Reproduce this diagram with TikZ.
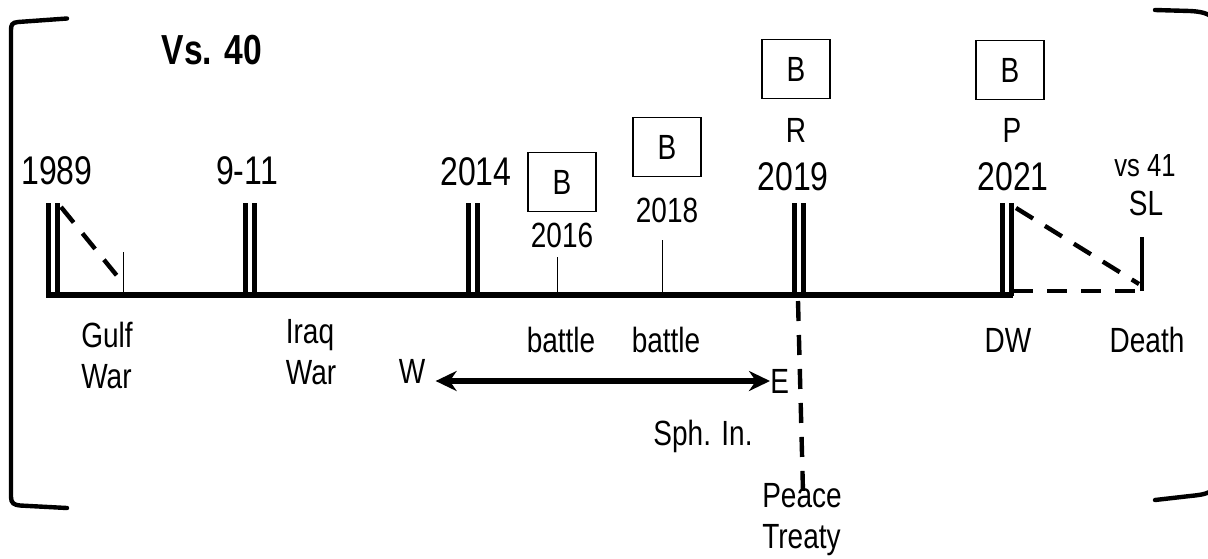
\documentclass[tikz,border=0pt]{standalone}
\usepackage{fontspec}
\setmainfont[FakeStretch=0.8]{Liberation Sans}
\usetikzlibrary{arrows.meta,positioning}
\tikzset{
big/.style={inner sep=0pt,font=\fontsize{20}{24}\selectfont},
mid/.style={inner sep=0pt,font=\fontsize{17.5}{20.5}\selectfont,align=left},
small/.style={inner sep=0pt,font=\fontsize{16}{18}\selectfont},
bx/.style={draw,line width=0.7pt,minimum width=34pt,minimum height=29.5pt,inner sep=0pt,font=\fontsize{17.5}{20}\selectfont},
dbl/.style={line width=2.5pt},
hair/.style={line width=0.5pt},
brk/.style={line width=2.2pt,dash pattern=on 10pt off 7pt},
bracket/.style={line width=2.2pt,line cap=round},
arr/.style={line width=3.2pt,{Stealth[length=10.5pt,width=10pt]}-{Stealth[length=10.5pt,width=10pt]}}
}
\begin{document}
\begin{tikzpicture}[x=0.5pt,y=-0.5pt]
\useasboundingbox(0,0)rectangle(1208,558);
\clip(0,0)rectangle(1208,558);
\draw[bracket](67,18.5)--(18,22)..controls(12,22.5)and(11,25)..(11,30)--(11,497)..controls(11,503)and(14,505)..(20,505.5)--(67,508);
\draw[bracket](1155,10)--(1190,11)..controls(1200,11.5)and(1210,13)..(1214,20)--(1214,488)..controls(1210,494)and(1200,495)..(1190,496)--(1155,500);
\coordinate(L)at(46,295);
\coordinate(D)at(1013,295);
\draw[line width=3.2pt](L)--(D);
\foreach \x in{53,249.5,473,799,1006.5}
{\draw[dbl](\x-4.5,296)--(\x-4.5,203);\draw[dbl](\x+4.5,296)--(\x+4.5,203);}
\foreach \x/\y in{123/252,557/257,662/240}
{\draw[hair](\x,294)--(\x,\y);}
\coordinate(g1)at(61,207);
\coordinate(g2)at(118,277);
\draw[brk](g1)--(g2);
\coordinate(p1)at(1016,208);
\coordinate(s0)at(1139,284);
\draw[brk](p1)--(s0);
\coordinate(d1)at(1013,291);
\coordinate(s1)at(1143,291);
\draw[brk](d1)--(s1);
\coordinate(s2)at(1142,237);
\draw[line width=2.2pt](1142,291)--(s2);
\coordinate(r1)at(798,301);
\coordinate(r2)at(803,492);
\draw[brk](r1)--(r2);
\node[inner sep=0pt,font=\fontsize{21}{24}\selectfont\bfseries](vs)at(212,50){Vs. 40};
\node[big](y1989)at(57,171){1989};
\node[big](y911)at(247,171){9-11};
\node[big](y2014)at(476,172){2014};
\node[bx](b2016)at(562,182){B};
\node[mid,below=5pt of b2016](y2016){2016};
\node[bx](b2018)at(667,147){B};
\node[mid,below=10pt of b2018](y2018){2018};
\node[bx](b2019)at(796,69){B};
\node[mid,below=9.5pt of b2019](R){R};
\node[big](y2019)at(793,177){2019};
\node[bx](b2021)at(1010,70){B};
\node[mid](P)at(1012,130){P};
\node[big](y2021)at(1013,177){2021};
\node[small](vs41)at(1145,166){vs 41};
\node[mid](SL)at(1146,203){SL};
\node[mid](gulf)at(107,355){Gulf\\War};
\node[mid](iraq)at(311,352){Iraq\\War};
\node[mid](bat1)at(561,340){battle};
\node[mid](bat2)at(666,340){battle};
\node[mid](W)at(412,371){W};
\node[mid,anchor=west](E)at(770,381){E};
\draw[arr]([xshift=5pt]W.east|-E.west)--(E.west);
\node[mid](sph)at(703,436){Sph. In.};
\node[mid](peace)at(802,520){Peace\\Treaty};
\node[mid](DW)at(1008,340){DW};
\node[mid](death)at(1147,340){Death};
\end{tikzpicture}
\end{document}
